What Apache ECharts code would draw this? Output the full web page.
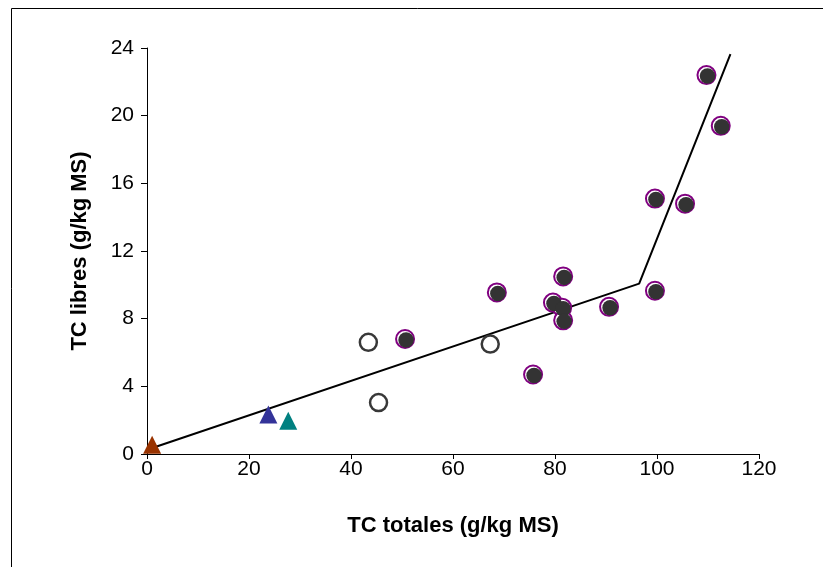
<!DOCTYPE html>
<html>
<head>
<meta charset="utf-8">
<script src="https://cdn.jsdelivr.net/npm/echarts@6/dist/echarts.min.js"></script>
<style>
html,body{margin:0;padding:0;background:#fff;}
#chart{width:823px;height:567px;}
</style>
</head>
<body>
<div id="chart"></div>
<script>
// Filled (purple-ringed) points [TC totales, TC libres]
const filledPoints = [
  [50.6, 6.8], [68.6, 9.55], [75.7, 4.7], [79.6, 8.95], [81.4, 8.65],
  [81.6, 7.9], [81.6, 10.5], [90.6, 8.7], [99.6, 9.65], [99.6, 15.1],
  [105.5, 14.8], [109.7, 22.4], [112.5, 19.4]
];
// Open circles
const openPoints = [[43.4, 6.6], [45.4, 3.04], [67.3, 6.5]];
// Triangles
const brownTriangle = [[1.0, 0.55]];
const blueTriangle = [[23.8, 2.33]];
const tealTriangle = [[27.7, 1.97]];
// Piecewise fitted line
const fitLine = [[0.3, 0.28], [96.5, 10.07], [114.4, 23.64]];

const xTicks = [0, 20, 40, 60, 80, 100, 120];
const yTicks = [0, 4, 8, 12, 16, 20, 24];

const chart = echarts.init(document.getElementById('chart'), null, {renderer: 'canvas'});
const tickFont = {fontFamily: 'Liberation Sans', fontSize: 21, color: '#000'};
const nameFont = {fontFamily: 'Liberation Sans', fontSize: 22, fontWeight: 'bold', color: '#000'};

chart.setOption({
  animation: false,
  backgroundColor: '#fff',
  grid: {left: 147, right: 64, top: 48, bottom: 113, containLabel: false},
  graphic: [{
    type: 'rect',
    shape: {x: 11.5, y: 8.5, width: 900, height: 700},
    style: {fill: 'none', stroke: '#000', lineWidth: 1},
    silent: true
  }],
  xAxis: {
    type: 'value', min: xTicks[0], max: xTicks[xTicks.length - 1], interval: 20,
    name: 'TC totales (g/kg MS)', nameLocation: 'middle', nameGap: 61,
    nameTextStyle: nameFont,
    axisLine: {lineStyle: {color: '#000', width: 1}},
    axisTick: {show: true, inside: false, length: 5, lineStyle: {color: '#000'}},
    axisLabel: Object.assign({margin: 5}, tickFont),
    splitLine: {show: false}
  },
  yAxis: {
    type: 'value', min: yTicks[0], max: yTicks[yTicks.length - 1], interval: 4,
    name: 'TC libres (g/kg MS)', nameLocation: 'middle', nameGap: 56,
    nameTextStyle: nameFont,
    axisLine: {show: true, lineStyle: {color: '#000', width: 1}},
    axisTick: {show: true, inside: false, length: 6, lineStyle: {color: '#000'}},
    axisLabel: Object.assign({margin: 13}, tickFont),
    splitLine: {show: false}
  },
  series: [
    {
      type: 'line', data: fitLine, symbol: 'none', z: 3,
      lineStyle: {color: '#000', width: 2}
    },
    {
      type: 'scatter', data: openPoints, symbol: 'circle', symbolSize: 17, z: 4,
      itemStyle: {color: '#fff', borderColor: '#383838', borderWidth: 2.5, opacity: 1}
    },
    {
      type: 'scatter', data: filledPoints, symbol: 'circle', symbolSize: 18, z: 4,
      itemStyle: {color: '#fff', borderColor: '#800080', borderWidth: 2, opacity: 1}
    },
    {
      type: 'scatter', data: filledPoints, symbol: 'circle', symbolSize: 15.5, z: 5,
      symbolOffset: [1, 1],
      itemStyle: {color: '#333333', opacity: 1}
    },
    {
      type: 'scatter', data: brownTriangle, symbol: 'triangle', symbolSize: 18, z: 6,
      itemStyle: {color: '#993300', opacity: 1}
    },
    {
      type: 'scatter', data: blueTriangle, symbol: 'triangle', symbolSize: 18, z: 6,
      itemStyle: {color: '#333399', opacity: 1}
    },
    {
      type: 'scatter', data: tealTriangle, symbol: 'triangle', symbolSize: 18, z: 6,
      itemStyle: {color: '#008080', opacity: 1}
    }
  ]
});
</script>
</body>
</html>
